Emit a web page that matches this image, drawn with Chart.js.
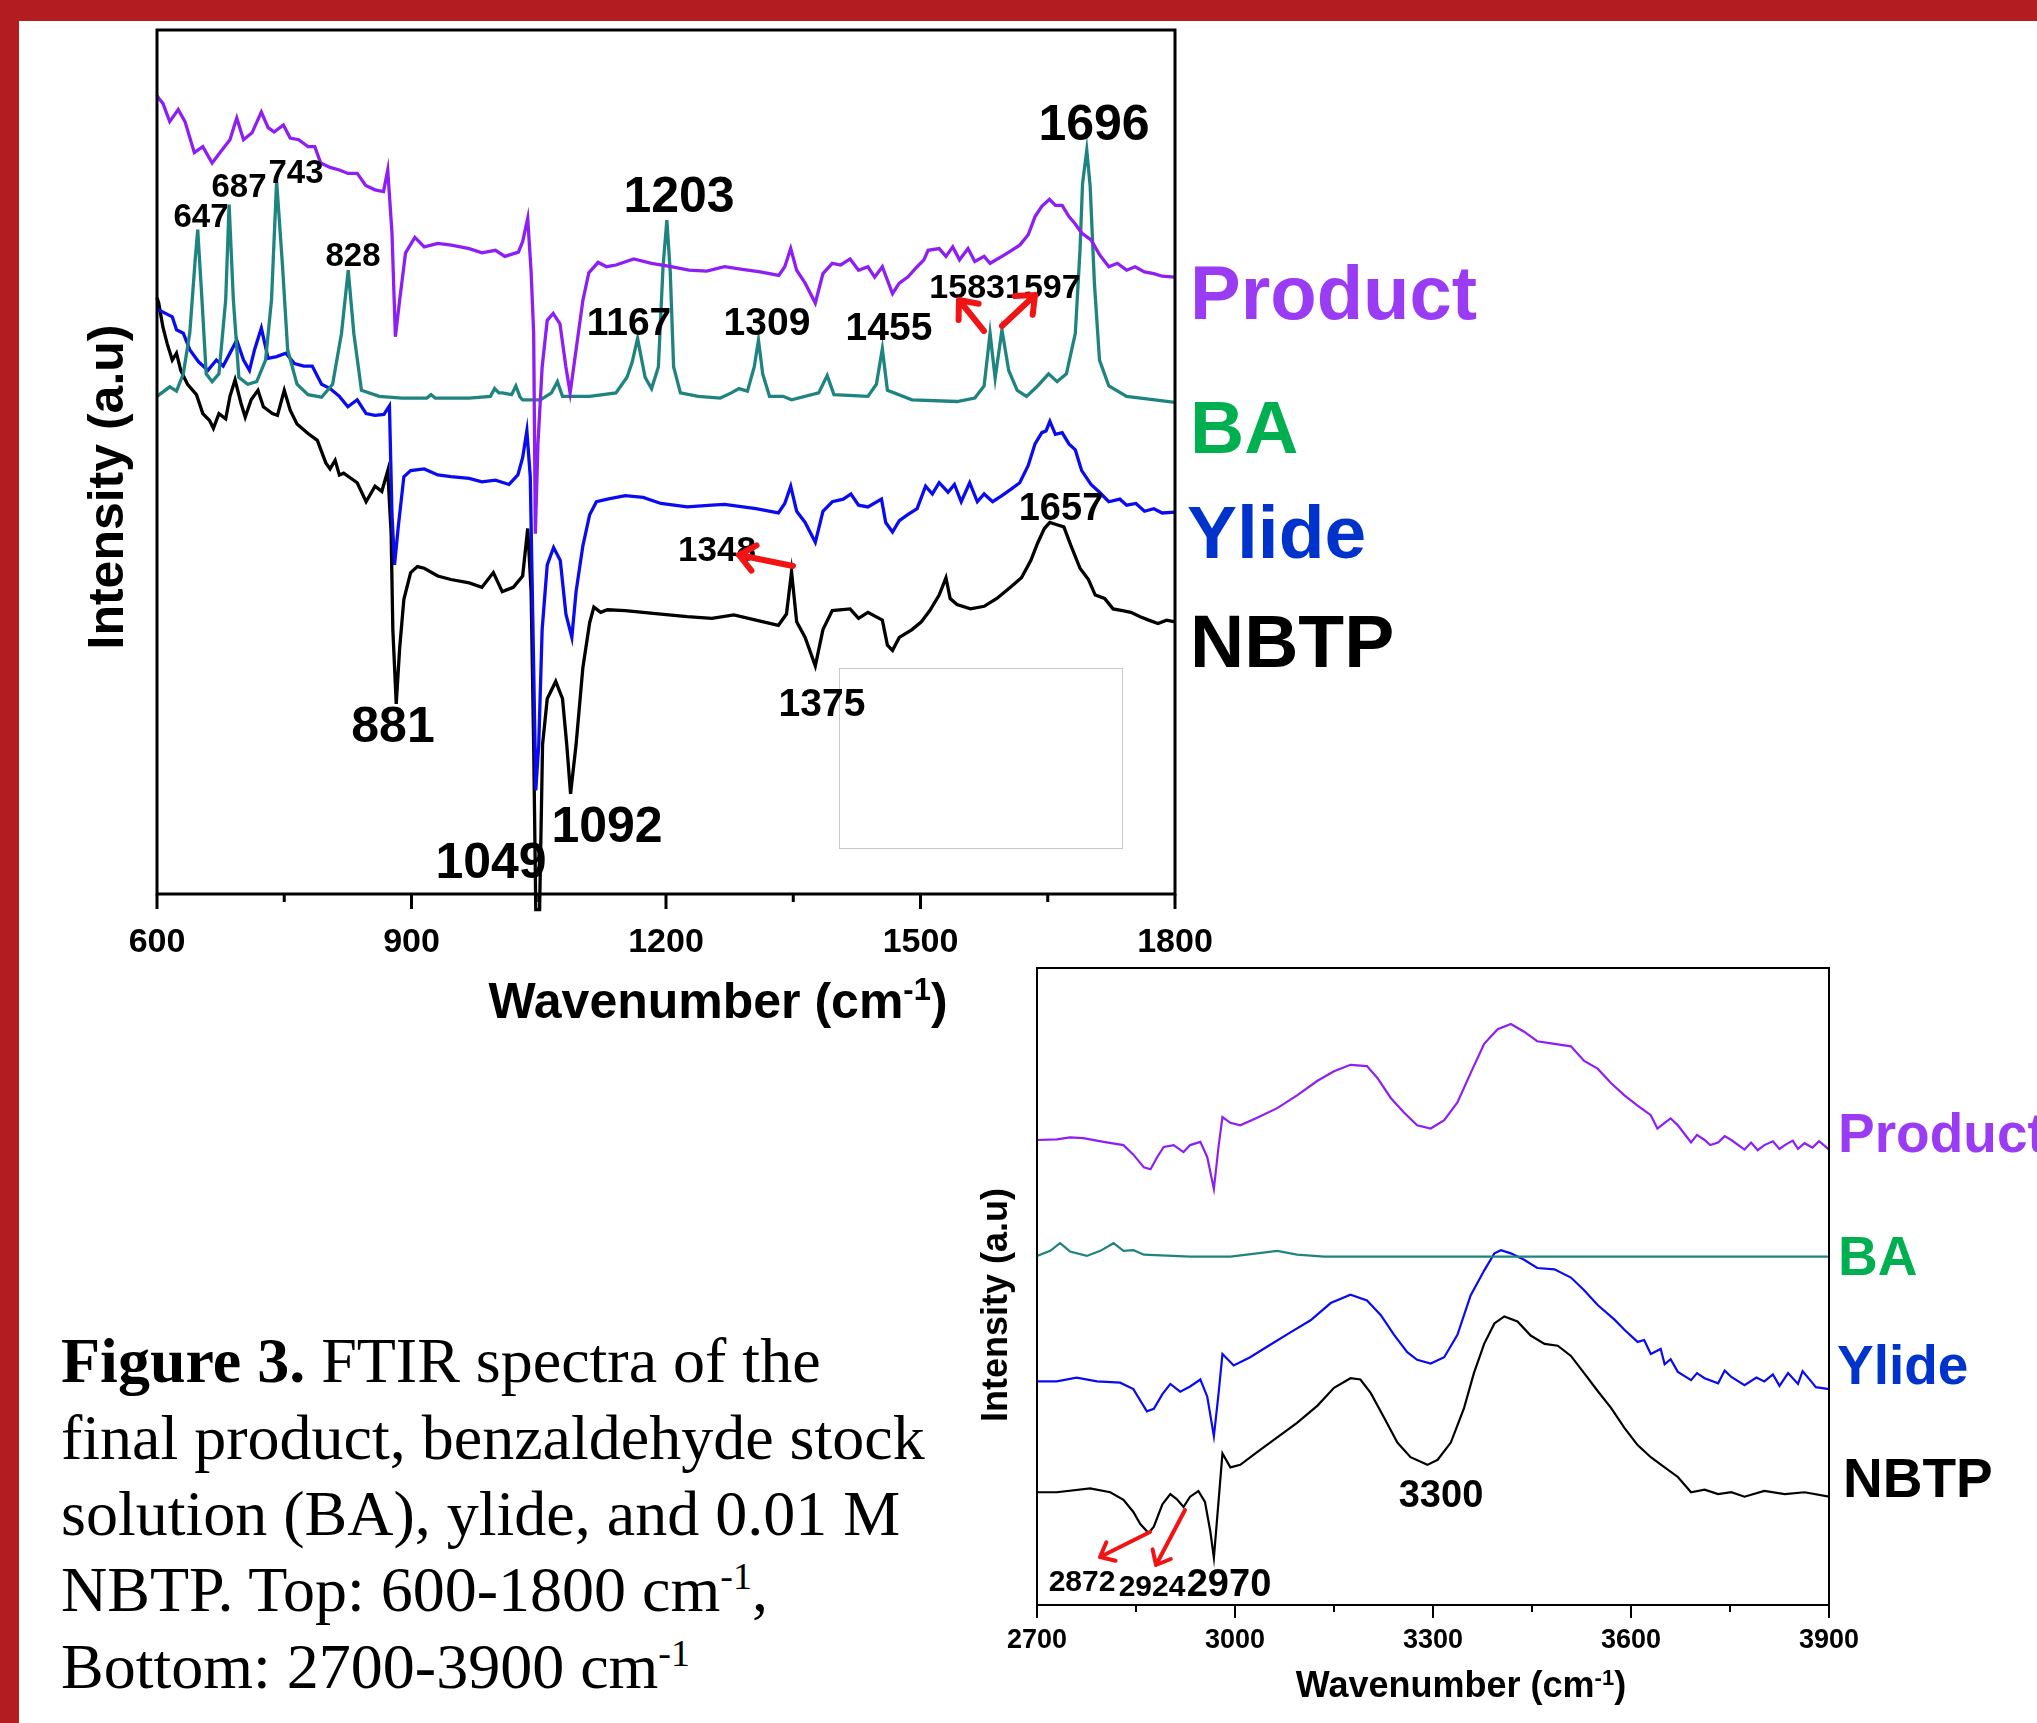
<!DOCTYPE html>
<html><head><meta charset="utf-8">
<script src="https://cdn.jsdelivr.net/npm/chart.js"></script>
<style>
html,body{margin:0;padding:0;background:#fff;}
body{width:2037px;height:1723px;position:relative;overflow:hidden;}
#redTop{position:absolute;left:0;top:0;width:2037px;height:21px;background:#B31D22;}
#redLeft{position:absolute;left:0;top:0;width:19px;height:1723px;background:#B31D22;}
canvas{position:absolute;}
.cap{position:absolute;left:61px;font-family:"Liberation Serif","Times New Roman",serif;font-size:64px;line-height:76px;white-space:nowrap;color:#000;}
.cap sup{font-size:38px;vertical-align:baseline;position:relative;top:-22px;line-height:0;}
</style></head><body>
<div id="redTop"></div><div id="redLeft"></div>
<canvas id="c1" width="1500" height="1060" style="left:0;top:0"></canvas>
<canvas id="c2" width="1077" height="783" style="left:960px;top:940px"></canvas>
<div class="cap" style="top:1323px"><b>Figure 3.</b> FTIR spectra of the</div>
<div class="cap" style="top:1400px">final product, benzaldehyde stock</div>
<div class="cap" style="top:1476px">solution (BA), ylide, and 0.01 M</div>
<div class="cap" style="top:1552px">NBTP. Top: 600-1800 cm<sup>-1</sup>,</div>
<div class="cap" style="top:1629px">Bottom: 2700-3900 cm<sup>-1</sup></div>
<script>
// ---------------- DATA: top panel (600-1800 cm-1) ----------------
const topTicks = [600, 900, 1200, 1500, 1800];
const topMinorTicks = [750, 1050, 1350, 1650];

const topProductWn = [600,602,607,615,625,633,644,654,665,675,686,694,702,712,723,731,738,749,757,767,778,786,793,804,815,825,836,846,857,867,872,877,881,886,893,904,915,931,947,968,983,999,1010,1026,1031,1037,1041,1044,1046,1049,1054,1060,1067,1075,1082,1087,1094,1102,1109,1120,1130,1141,1162,1183,1206,1227,1248,1269,1290,1311,1333,1340,1347,1354,1364,1376,1385,1396,1406,1417,1427,1438,1446,1455,1467,1475,1485,1496,1504,1509,1522,1530,1538,1546,1556,1564,1575,1582,1596,1606,1617,1627,1635,1643,1652,1659,1667,1675,1682,1690,1701,1711,1722,1732,1743,1753,1764,1775,1785,1800];
const topProductI = [92.4,92.1,91.5,89.4,90.8,89.4,85.8,86.5,84.6,85.9,87.3,89.8,87.3,88.1,90.5,88.7,88.2,89.0,87.5,87.3,86.5,86.5,84.6,84.1,83.8,83.4,83.4,82.0,81.5,81.3,83.8,76.5,64.5,68.7,74.2,76.0,74.9,75.3,75.1,74.7,74.2,74.5,73.8,74.3,75.5,78.2,72.0,64.9,41.7,52.0,61.0,66.4,67.2,66.0,61.0,58.0,63.0,68.7,71.9,73.1,72.6,72.8,73.5,73.0,72.6,72.2,72.1,72.6,72.3,72.0,71.6,72.6,74.7,72.2,70.7,68.4,71.8,73.0,72.8,73.5,72.2,72.6,71.4,72.6,69.5,70.7,71.4,72.6,73.4,74.5,74.7,73.8,74.9,73.4,74.7,73.2,73.8,73.0,73.8,74.4,75.1,76.3,78.4,79.6,80.4,79.7,79.7,78.4,77.6,76.5,75.7,74.0,72.6,73.0,72.2,72.6,72.0,71.8,71.5,71.4];

const topBAWn = [600,615,623,631,638.6,645,648,653,658,665,673,681,685,690,696.5,707,717.5,728,735,741,748,754,765,778,794,807,817.5,825.4,832,841,862,888.6,918,923,928,968,993,998,1003,1007,1018,1023,1028,1031,1052,1065,1072,1078,1110,1141,1154,1160,1166.5,1172,1175.4,1183,1191,1196.5,1201,1205,1209,1217,1238,1264,1277,1286,1296,1304,1309,1314,1322,1338,1348,1380,1390,1398,1438,1448,1455,1461,1490,1543,1564,1575,1582,1588,1596,1604,1614,1625,1638,1651,1661,1672,1682.5,1688,1691,1696,1700,1705,1711,1722,1743,1800];
const topBAI = [57.6,58.7,58.2,60.2,64.9,73.4,76.9,68.8,60.2,59.3,60.2,68.8,79.8,68.8,59.8,59.0,59.3,61.8,68.8,82.5,72.6,63.0,59.0,57.8,57.5,59.0,64.9,72.2,64.9,58.3,57.6,57.4,57.4,57.8,57.4,57.4,57.6,58.5,58.0,58.0,57.8,58.8,57.5,57.2,57.2,58.0,59.3,57.6,57.6,58.0,59.8,61.5,64.3,61.5,59.8,58.5,61.0,72.6,78.0,72.0,61.0,58.0,57.6,57.4,58.0,58.5,58.2,61.0,64.1,60.2,57.6,57.6,57.2,58.0,60.0,57.8,57.6,59.0,63.1,58.3,57.2,57.0,57.4,58.8,64.9,59.7,65.3,60.6,58.3,57.6,58.8,60.2,59.3,60.2,64.9,74.5,82.2,86.1,81.9,70.7,61.8,58.8,57.6,56.9];

const topYlideWn = [600,602,610,618,623,631,638.6,649,660,670,678,686,694,702,709,715,723,731,741,752,762,773,783,794,804,815,825,836,846.5,857,867.5,874,877,880,884.4,891,899,915,931,946.5,968,983,999,1015,1025.4,1031,1036,1040,1044,1046.5,1050,1054,1060,1067.5,1075.4,1082,1089,1094,1102,1110,1118,1131,1152,1173,1194,1225,1254,1269,1306,1332.5,1340,1347,1354,1364,1376,1385,1396,1409,1418,1427,1438,1454,1459,1467,1475,1485,1496,1506,1514,1522,1532.5,1540,1548,1558,1567,1575,1585,1596,1606,1617,1627,1635,1643,1648,1652.5,1659,1667,1675,1682.5,1690,1701,1711,1722,1735,1743,1754,1764,1775,1785,1800];
const topYlideI = [67.8,67.6,67.2,66.8,65.3,64.9,63.0,61.6,60.6,61.8,61.1,62.6,64.1,61.8,60.6,63.0,65.5,62.0,62.2,62.6,61.4,61.1,61.1,59.0,58.5,57.6,56.4,57.2,55.6,55.4,55.5,56.5,43.9,38.1,42.5,48.3,49.0,49.2,48.5,48.3,48.1,47.7,47.9,47.4,48.5,50.5,53.6,48.3,26.2,12.0,17.3,30.6,38.1,40.1,38.6,32.4,29.7,35.0,40.3,43.9,45.4,45.7,46.1,45.9,45.2,44.8,45.0,45.1,44.6,44.1,45.2,47.2,44.3,43.0,40.7,44.3,45.4,45.7,46.3,45.0,44.8,45.7,43.0,41.9,43.2,43.9,44.6,47.2,46.3,47.6,46.5,47.4,45.4,47.6,45.4,46.3,45.4,46.1,46.8,47.6,49.6,52.1,53.4,53.6,54.7,53.2,53.4,52.1,51.4,49.0,47.4,46.5,45.4,45.7,45.0,45.2,44.3,44.6,44.1,44.2];

const topNBTPWn = [600,602,607,612,618,623,628,636,646.5,654,662,666.5,673,681,686,692,699,704,711,719,725.4,736,742,750,757,765,778,789,799,804,810,815,820,836,846.5,857,865,872,876,878,882,886,891,899,907,915,931,946.5,968,983,996.5,1007,1020,1031,1037,1041,1044,1046.5,1051,1054.5,1060,1070,1078,1083,1087.5,1094,1102,1110,1115,1123,1131,1152,1173,1194,1225,1254,1280,1306,1332.5,1342,1348,1354,1364,1376,1385,1396,1417,1427,1438,1455,1461,1467,1475,1490,1501,1511,1522,1530,1535,1543,1559,1575,1590,1606,1619,1630,1638,1646,1652.5,1659,1669,1677,1688,1698,1706,1717,1727,1738,1748,1759,1769,1780,1790,1800];
const topNBTPI = [69.0,68.4,65.6,63.7,61.8,62.6,60.6,59.0,57.8,55.6,54.8,53.9,55.6,55.0,57.6,59.5,56.8,55.2,57.2,58.3,56.4,55.6,55.4,58.3,56.0,54.4,53.3,52.5,49.9,49.2,50.2,48.5,48.7,47.6,45.4,47.2,46.6,49.0,41.7,30.6,22.0,28.4,34.1,37.2,37.9,37.7,36.8,36.4,36.0,35.5,37.2,35.0,35.5,36.8,42.3,35.0,17.3,-1.8,-1.8,17.3,22.6,24.6,22.6,17.3,11.6,17.3,26.2,31.4,33.2,32.6,32.9,32.8,32.6,32.4,32.1,31.9,32.3,31.7,31.1,32.4,37.3,31.5,29.7,26.4,30.6,32.8,33.0,31.9,32.6,31.7,28.8,28.2,29.7,30.6,31.5,32.8,34.6,36.6,34.2,33.5,33.0,33.3,34.2,35.5,36.6,38.6,40.6,42.3,43.0,42.8,42.5,40.4,37.7,36.4,34.6,34.2,33.0,32.8,32.6,32.1,31.7,31.3,31.7,31.5];

// ---------------- DATA: bottom panel (2700-3900 cm-1) ----------------
const botTicks = [2700, 3000, 3300, 3600, 3900];
const botMinorTicks = [2850, 3150, 3450, 3750];

const botProductWn = [2700,2730,2750,2770,2801,2831,2846,2862,2872,2882,2892,2907,2922,2932,2947.5,2958,2968,2975,2981,2993,3008,3033.5,3064,3094,3125,3150,3175,3200,3216,3236,3256,3276,3296.5,3317,3337,3357,3377.5,3398,3418,3438,3458,3484,3509,3529,3549.5,3570,3590,3610,3630,3640,3651,3660,3671,3691,3700,3711.5,3720,3732,3742,3752,3772,3782,3792,3802,3815,3825,3833,3845,3853,3863,3875,3885,3900];
const botProductI = [73.0,73.1,73.4,73.3,72.7,72.2,70.7,68.7,68.4,70.3,71.9,72.2,71.1,72.2,72.7,70.3,65.3,71.9,76.6,75.7,75.3,76.5,78.0,80.0,82.3,83.8,84.8,84.6,82.7,79.6,77.3,75.3,74.8,76.1,78.9,83.5,88.1,90.4,91.2,90.0,88.5,88.1,87.7,85.4,84.2,81.9,80.0,78.4,76.9,74.8,75.7,76.4,75.3,72.6,73.8,73.0,72.2,72.6,73.6,73.0,71.5,72.6,71.4,72.2,72.8,71.6,72.2,72.9,71.6,72.5,71.8,72.8,71.5];

const botBAWn = [2700,2720,2735,2750,2775.5,2796,2816,2831,2846,2862,2932,2993,3033.5,3064,3094,3135,3900];
const botBAI = [54.8,55.6,56.8,55.5,54.8,55.6,56.8,55.6,55.7,55.0,54.7,54.7,55.2,55.6,55.0,54.7,54.7];

const botYlideWn = [2700,2730,2760,2791,2826,2846,2866.5,2877,2890,2902,2917,2932,2947.5,2958,2968,2975,2981,2998,3023,3054,3084,3114.5,3145,3175,3200,3221,3241,3261,3276,3296.5,3317,3337,3357,3377.5,3393,3403,3418,3438,3458,3484,3509,3529,3549.5,3575,3590,3610,3620,3630,3645,3651,3660,3671,3691,3700,3711.5,3732,3742,3752,3772,3790,3802,3815,3825,3838,3853,3860,3873,3880,3900];
const botYlideI = [35.1,35.1,35.7,35.1,34.9,33.9,30.4,30.8,33.1,34.7,33.5,34.3,35.4,32.7,26.5,33.1,39.4,37.6,38.9,40.9,42.8,44.7,47.4,48.7,47.8,45.5,42.4,39.7,38.5,37.9,38.9,42.4,48.6,52.5,55.2,55.7,55.2,54.2,52.9,52.7,51.4,49.4,47.1,44.8,43.2,41.3,41.6,39.4,40.2,37.8,38.6,36.6,35.3,36.4,35.6,34.8,36.8,35.8,34.5,35.7,35.1,36.2,34.4,36.4,34.7,36.7,35.1,34.2,33.9];

const botNBTPWn = [2700,2730,2780.5,2811,2831,2846,2856.5,2869,2877,2890,2902,2912,2922,2932,2944.5,2954.5,2962.7,2968,2975,2981,2993,3008,3033.5,3064,3094,3125,3150,3175,3190,3205.5,3226,3246,3266,3291.5,3307,3327,3347,3362,3377.5,3393,3408,3428,3448,3469,3489,3509,3529,3549.5,3570,3590,3610,3630,3651,3671,3691,3711.5,3732,3752,3772,3802,3833,3863,3900];
const botNBTPI = [17.7,17.7,18.3,17.7,16.5,14.6,12.7,11.3,12.3,15.8,17.4,16.6,15.4,17.0,17.9,16.2,11.5,7.4,16.2,23.8,21.6,22.0,24.0,26.3,28.6,31.3,34.1,35.6,35.4,33.3,29.4,25.5,23.2,22.0,22.8,25.5,30.9,36.4,41.0,44.2,45.3,44.5,42.3,41.0,40.7,39.1,36.4,33.6,30.9,27.8,25.1,23.2,21.6,20.1,17.7,18.1,17.4,17.7,17.0,17.9,17.4,17.7,17.0];

// ---------------- styling ----------------
const FONT = "'Liberation Sans', Arial, Helvetica, sans-serif";
const C_PRODUCT = '#8E1FF4', C_BA = '#1F847F', C_YLIDE = '#0B0BEF', C_NBTP = '#000000';
const L_PRODUCT = '#9B3CF5', L_BA = '#00B050', L_YLIDE = '#0033CC', L_NBTP = '#000000';
const RED = '#F01414';

function zip(xs, ys){ return xs.map((x,i)=>({x:x, y:ys[i]})); }

function txt(ctx, t, x, y, size, color, align){
  ctx.save();
  ctx.font = 'bold ' + size + 'px ' + FONT;
  ctx.fillStyle = color || '#000';
  ctx.textAlign = align || 'center';
  ctx.textBaseline = 'alphabetic';
  ctx.fillText(t, x, y);
  ctx.restore();
}
function supTitle(ctx, main, sup, tail, cx, y, size, supSize, raise){
  ctx.save();
  ctx.textBaseline = 'alphabetic'; ctx.textAlign = 'left'; ctx.fillStyle = '#000';
  ctx.font = 'bold ' + size + 'px ' + FONT;
  const w1 = ctx.measureText(main).width, w3 = ctx.measureText(tail).width;
  ctx.font = 'bold ' + supSize + 'px ' + FONT;
  const w2 = ctx.measureText(sup).width;
  let x = cx - (w1 + w2 + w3) / 2;
  ctx.font = 'bold ' + size + 'px ' + FONT; ctx.fillText(main, x, y); x += w1;
  ctx.font = 'bold ' + supSize + 'px ' + FONT; ctx.fillText(sup, x, y - raise); x += w2;
  ctx.font = 'bold ' + size + 'px ' + FONT; ctx.fillText(tail, x, y);
  ctx.restore();
}
function rotTitle(ctx, t, x, y, size){
  ctx.save();
  ctx.translate(x, y); ctx.rotate(-Math.PI / 2);
  ctx.font = 'bold ' + size + 'px ' + FONT; ctx.fillStyle = '#000';
  ctx.textAlign = 'center'; ctx.textBaseline = 'alphabetic';
  ctx.fillText(t, 0, 0);
  ctx.restore();
}
function arrow(ctx, a, lw, head){
  const [x1, y1, x2, y2] = a;
  const ang = Math.atan2(y2 - y1, x2 - x1);
  ctx.save();
  ctx.strokeStyle = RED; ctx.lineWidth = lw; ctx.lineCap = 'round'; ctx.lineJoin = 'round';
  ctx.beginPath(); ctx.moveTo(x1, y1); ctx.lineTo(x2, y2);
  ctx.moveTo(x2 - head * Math.cos(ang - 0.7), y2 - head * Math.sin(ang - 0.7));
  ctx.lineTo(x2, y2);
  ctx.lineTo(x2 - head * Math.cos(ang + 0.7), y2 - head * Math.sin(ang + 0.7));
  ctx.stroke(); ctx.restore();
}
function frameTicks(chart, lw, majLen, minLen, majors, minors){
  const ctx = chart.ctx, a = chart.chartArea, xs = chart.scales.x;
  ctx.save(); ctx.strokeStyle = '#000'; ctx.lineWidth = lw;
  ctx.strokeRect(a.left, a.top, a.right - a.left, a.bottom - a.top);
  ctx.beginPath();
  majors.forEach(v => { const p = xs.getPixelForValue(v); ctx.moveTo(p, a.bottom); ctx.lineTo(p, a.bottom + majLen); });
  minors.forEach(v => { const p = xs.getPixelForValue(v); ctx.moveTo(p, a.bottom); ctx.lineTo(p, a.bottom + minLen); });
  ctx.stroke(); ctx.restore();
}

// annotation layout (canvas pixels)
const topPeakLabels = [
  ['647',201,227,33],['687',239,197,33],['743',296,183,33],['828',353,266,33],
  ['1167',629,335,39],['1203',679,212,50],['1309',767,335,39],['1455',889,340,39],
  ['15831597',1005,298,34],['1696',1094,140,50],['1657',1061,520,38],
  ['1348',717,561,35],['1375',822,716,39],['881',393,742,50],['1092',607,842,50],['1049',491,878,50]
];
const topSeriesLabels = [['Product',1190,319,76,L_PRODUCT],['BA',1190,453,75,L_BA],['Ylide',1187,558,75,L_YLIDE],['NBTP',1190,667,75,L_NBTP]];
const topArrows = [[984,331,959,300],[1002,326,1035,295],[793,566,739,555]];

const botPeakLabels = [['3300',481,567,38],['2970',269,656,38],['2872',122,651,30],['2924',192,656,30]];
const botSeriesLabels = [['Product',878,212,55,L_PRODUCT],['BA',878,335,55,L_BA],['Ylide',877,444,55,L_YLIDE],['NBTP',883,557,55,L_NBTP]];
const botArrows = [[190,592,140,617],[225,570,196,625]];

const topPlugin = {
  id: 'topDeco',
  afterDraw(chart){
    const ctx = chart.ctx;
    ctx.save(); ctx.strokeStyle = '#C8C8C8'; ctx.lineWidth = 1;
    ctx.strokeRect(839.5, 668.5, 283, 180); ctx.restore();
    frameTicks(chart, 3, 15, 8, topTicks, topMinorTicks);
    rotTitle(ctx, 'Intensity (a.u)', 123, 487, 50);
    supTitle(ctx, 'Wavenumber (cm', '-1', ')', 718, 1018, 50, 31, 18);
    topPeakLabels.forEach(l => txt(ctx, l[0], l[1], l[2], l[3], '#000', 'center'));
    topSeriesLabels.forEach(l => txt(ctx, l[0], l[1], l[2], l[3], l[4], 'left'));
    topArrows.forEach(a => arrow(ctx, a, 6, 20));
  }
};
const botPlugin = {
  id: 'botDeco',
  afterDraw(chart){
    const ctx = chart.ctx;
    frameTicks(chart, 2, 13, 7, botTicks, botMinorTicks);
    rotTitle(ctx, 'Intensity (a.u)', 47, 365, 36);
    supTitle(ctx, 'Wavenumber (cm', '-1', ')', 501, 757, 36, 22, 12);
    botPeakLabels.forEach(l => txt(ctx, l[0], l[1], l[2], l[3], '#000', 'center'));
    botSeriesLabels.forEach(l => txt(ctx, l[0], l[1], l[2], l[3], l[4], 'left'));
    botArrows.forEach(a => arrow(ctx, a, 4, 16));
  }
};

function ds(label, wn, ii, color, w, extra){
  return Object.assign({label: label, data: zip(wn, ii), borderColor: color, backgroundColor: color,
    borderWidth: w, pointRadius: 0, tension: 0, fill: false}, extra || {});
}
function makeOpts(padding, axisH, tickMin, tickMax, step, tickSize, tickPad){
  return {
    responsive: false, animation: false, devicePixelRatio: 1,
    layout: {padding: padding},
    plugins: {legend: {display: false}, tooltip: {enabled: false}},
    scales: {
      x: {type: 'linear', min: tickMin, max: tickMax,
          afterFit: s => { s.height = axisH; },
          grid: {display: false, drawTicks: false}, border: {display: false},
          ticks: {stepSize: step, autoSkip: false, maxRotation: 0, padding: tickPad, color: '#000',
                  callback: v => String(v),
                  font: {family: FONT, size: tickSize, weight: 'bold'}}},
      y: {type: 'linear', min: 0, max: 100, display: false}
    }
  };
}

new Chart(document.getElementById('c1'), {
  type: 'line',
  data: {datasets: [
    ds('Product', topProductWn, topProductI, C_PRODUCT, 3.3),
    ds('BA', topBAWn, topBAI, C_BA, 3.3),
    ds('Ylide', topYlideWn, topYlideI, C_YLIDE, 3.3),
    ds('NBTP', topNBTPWn, topNBTPI, C_NBTP, 3.3, {clip: false})
  ]},
  options: makeOpts({left: 157, top: 30, right: 325, bottom: 56}, 110, 600, 1800, 300, 34, 28),
  plugins: [topPlugin]
});

new Chart(document.getElementById('c2'), {
  type: 'line',
  data: {datasets: [
    ds('Product', botProductWn, botProductI, C_PRODUCT, 2.2),
    ds('BA', botBAWn, botBAI, C_BA, 2.2),
    ds('Ylide', botYlideWn, botYlideI, C_YLIDE, 2.2),
    ds('NBTP', botNBTPWn, botNBTPI, C_NBTP, 2.2)
  ]},
  options: makeOpts({left: 77, top: 28, right: 208, bottom: 38}, 80, 2700, 3900, 300, 27, 19),
  plugins: [botPlugin]
});
</script>
</body></html>
